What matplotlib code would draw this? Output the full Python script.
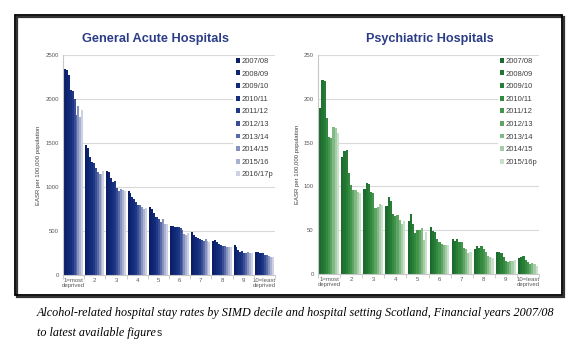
import numpy as np
import matplotlib
matplotlib.use("Agg")
import matplotlib.pyplot as plt
from matplotlib.patches import Rectangle

plt.rcParams['font.family'] = ['Liberation Sans', 'DejaVu Sans']

deciles = ["1=most\ndeprived", "2", "3", "4", "5", "6", "7", "8", "9", "10=least\ndeprived"]

acute_years = ["2007/08", "2008/09", "2009/10", "2010/11", "2011/12",
               "2012/13", "2013/14", "2014/15", "2015/16", "2016/17p"]
# rows = decile, columns = financial year
acute_rates = [
    [2345, 2330, 2270, 2105, 2090, 1995, 1820, 1915, 1795, 1880],
    [1475, 1440, 1340, 1285, 1275, 1215, 1170, 1150, 1150, 1185],
    [1185, 1165, 1100, 1055, 1065, 990, 955, 975, 965, 955],
    [950, 935, 885, 860, 830, 790, 800, 775, 750, 760],
    [770, 750, 700, 660, 655, 640, 600, 635, 580, 580],
    [560, 555, 550, 550, 540, 530, 510, 470, 450, 480],
    [490, 455, 430, 420, 410, 395, 390, 410, 390, 380],
    [390, 395, 370, 355, 345, 335, 330, 320, 315, 315],
    [340, 320, 285, 265, 270, 250, 255, 260, 255, 255],
    [260, 262, 255, 245, 245, 230, 225, 215, 210, 205],
]

psych_years = ["2007/08", "2008/09", "2009/10", "2010/11", "2011/12",
               "2012/13", "2013/14", "2014/15", "2015/16p"]
psych_rates = [
    [190, 222, 220, 178, 156, 155, 168, 167, 161],
    [134, 140, 141, 115, 102, 96, 96, 94, 93],
    [97, 104, 103, 94, 93, 75, 77, 80, 79],
    [78, 88, 83, 69, 66, 67, 62, 57, 61],
    [60, 69, 57, 47, 50, 50, 52, 39, 48],
    [54, 49, 48, 40, 37, 34, 33, 33, 33],
    [40, 38, 40, 36, 36, 30, 29, 24, 25],
    [29, 32, 30, 32, 28, 25, 20, 19, 18],
    [25, 25, 24, 19, 15, 14, 15, 15, 16],
    [18, 19, 21, 16, 14, 11, 12, 11, 9],
]

blues = ['#0b1f66', '#0e2470', '#112977', '#162f7d', '#1e3885',
         '#384d93', '#5a6aa7', '#8591bf', '#aab2d2', '#cdd1e3']
greens = ['#1c6a2c', '#217431', '#297e37', '#33893f', '#43954c',
          '#5ea464', '#81b984', '#a6cda7', '#c9e0c9']

W, H = 585, 348
fig = plt.figure(figsize=(W / 100, H / 100), dpi=100)
fig.patch.set_facecolor('white')

GRID = '#d9d9d9'
TXT = '#595959'


def panel(rect, years, rates, colors, ymax, step, legend_anchor):
    ax = fig.add_axes(rect)
    data = np.array(rates, dtype=float)
    ng, ns = data.shape
    x = np.arange(ng)
    span = 0.9
    bw = span / ns
    for j in range(ns):
        ax.bar(x - span / 2 + bw * (j + 0.5), data[:, j], width=bw,
               color=colors[j], label=years[j], linewidth=0, zorder=2)
    ax.set_xlim(-0.5, ng - 0.5)
    ax.set_ylim(0, ymax)
    ax.set_yticks(np.arange(0, ymax + 1, step))
    ax.yaxis.grid(True, color=GRID, linewidth=0.8, zorder=0)
    ax.set_axisbelow(True)
    for s in ('top', 'right'):
        ax.spines[s].set_visible(False)
    for s in ('left', 'bottom'):
        ax.spines[s].set_color('#c8c8c8')
        ax.spines[s].set_linewidth(0.8)
    ax.set_xticks(x)
    ax.set_xticklabels(deciles, fontsize=4.3, color=TXT, linespacing=1.1)
    ax.tick_params(axis='x', length=0, pad=2)
    ax.set_xticks(np.arange(-0.5, ng, 1.0), minor=True)
    ax.tick_params(axis='x', which='minor', length=3, color='#c8c8c8', width=0.6)
    ax.tick_params(axis='y', length=0, labelsize=4.3, labelcolor=TXT, pad=3)
    ax.set_ylabel("EASR per 100,000 population", fontsize=4.3, color='#404040',
                  labelpad=3)
    leg = ax.legend(loc='upper right', bbox_to_anchor=legend_anchor,
                    fontsize=5.5, frameon=True, framealpha=1, edgecolor='white',
                    handlelength=0.6, handleheight=0.6, handletextpad=0.15,
                    labelspacing=0.72, borderpad=0.3, labelcolor='#404040')
    leg.get_frame().set_linewidth(0)
    return ax


panel([63 / W, 1 - 275 / H, 212 / W, 220 / H], acute_years, acute_rates,
      blues, 2500, 500, (1.02, 1.015))
panel([318 / W, 1 - 274 / H, 221 / W, 219 / H], psych_years, psych_rates,
      greens, 250, 50, (1.02, 1.015))

title_col = '#2b3d87'
fig.text(155 / W, 1 - 39 / H, "General Acute Hospitals", ha='center', va='center',
         fontsize=9.2, fontweight='bold', color=title_col)
fig.text(430 / W, 1 - 39 / H, "Psychiatric Hospitals", ha='center', va='center',
         fontsize=9.1, fontweight='bold', color=title_col)

# framed chart with a small drop shadow
fig.patches.append(Rectangle((17 / W, 1 - 297 / H), 547 / W, 280 / H,
                             transform=fig.transFigure, facecolor='none',
                             edgecolor='#333333', linewidth=1.6, zorder=0))
fig.patches.append(Rectangle((15 / W, 1 - 295 / H), 547 / W, 280 / H,
                             transform=fig.transFigure, facecolor='none',
                             edgecolor='black', linewidth=1.3, zorder=1))

cap_font = dict(family=['Liberation Serif', 'DejaVu Serif'], style='italic',
                fontsize=8.75, color='black')
fig.text(37 / W, 1 - 313 / H,
         "Alcohol-related hospital stay rates by SIMD decile and hospital setting "
         "Scotland, Financial years 2007/08",
         ha='left', va='center', **cap_font)
t = fig.text(37 / W, 1 - 333 / H, "to latest available figure",
             ha='left', va='center', **cap_font)
fig.canvas.draw()
bb = t.get_window_extent()
fig.text(bb.x1 / W + 0.5 / W, 1 - 333 / H, "s", ha='left', va='center',
         fontsize=7.5, color='#222222')

fig.savefig("out.png", dpi=100, facecolor='white')
